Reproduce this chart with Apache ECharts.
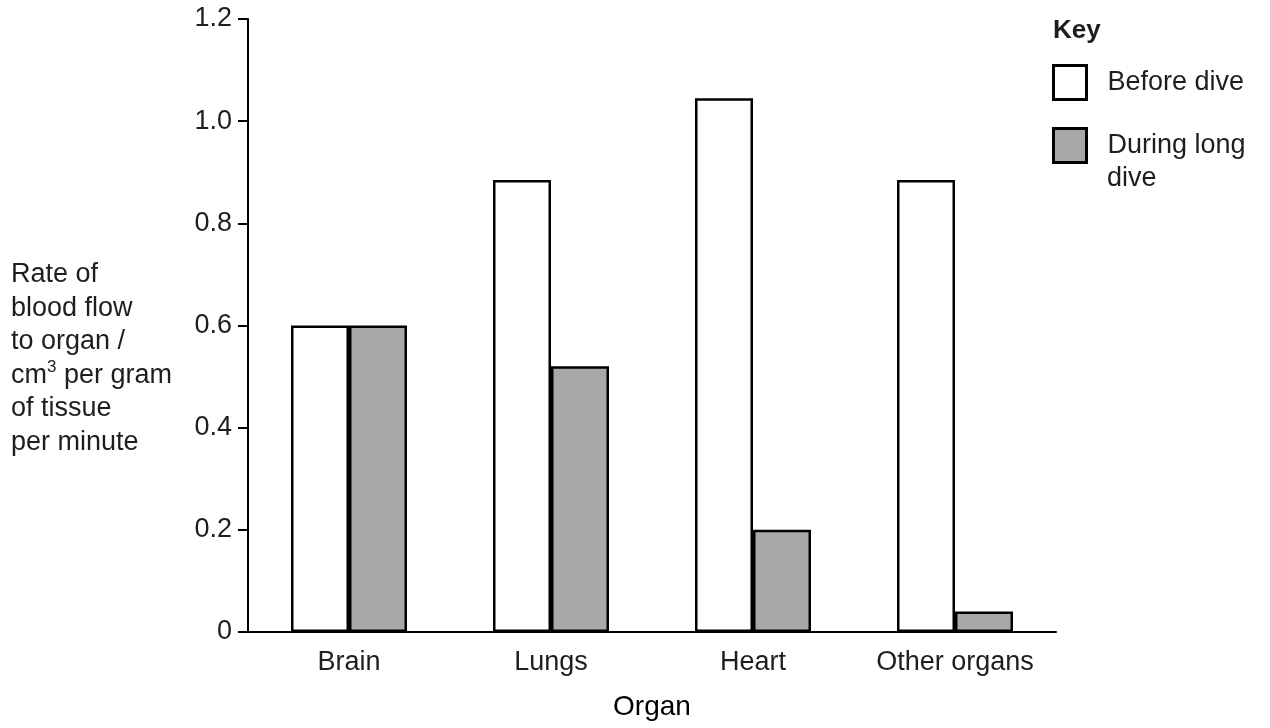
<!DOCTYPE html>
<html>
<head>
<meta charset="utf-8">
<script src="https://cdn.jsdelivr.net/npm/echarts@6/dist/echarts.min.js"></script>
<style>
html,body{margin:0;padding:0;background:#fff;}
#chart{width:1270px;height:728px;}
</style>
</head>
<body>
<div id="chart"></div>
<script>
var categories = ['Brain', 'Lungs', 'Heart', 'Other organs'];
var beforeDive = [0.6, 0.885, 1.045, 0.885];
var duringDive = [0.6, 0.52, 0.2, 0.04];
var yTickLabels = ['0', '0.2', '0.4', '0.6', '0.8', '1.0', '1.2'];
var seriesNames = ['Before dive', 'During long dive'];

var FONT = '"Liberation Sans", Arial, Helvetica, sans-serif';
var TXT = '#1e1e1e';

var chart = echarts.init(document.getElementById('chart'));
chart.setOption({
  animation: false,
  backgroundColor: '#fff',
  textStyle: { fontFamily: FONT },
  grid: { left: 248, right: 214, top: 19, bottom: 96, containLabel: false },
  legend: {
    orient: 'vertical',
    left: 1047,
    top: 59,
    itemWidth: 33,
    itemHeight: 34,
    itemGap: 26,
    icon: 'rect',
    selectedMode: false,
    textStyle: { fontFamily: FONT, fontSize: 27, color: TXT, padding: [0, 0, 0, 16] },
    formatter: function (name) { return name === seriesNames[1] ? 'During long' : name; },
    data: [
      { name: seriesNames[0], itemStyle: { color: '#fff', borderColor: '#000', borderWidth: 3 } },
      { name: seriesNames[1], itemStyle: { color: '#a8a8a8', borderColor: '#000', borderWidth: 3 } }
    ]
  },
  xAxis: {
    type: 'category',
    data: categories,
    name: 'Organ',
    nameLocation: 'middle',
    nameGap: 61,
    nameTextStyle: { fontFamily: FONT, fontSize: 28, color: '#000' },
    axisLine: { lineStyle: { color: '#000', width: 2 } },
    axisTick: { show: false },
    axisLabel: { interval: 0, hideOverlap: false, fontFamily: FONT, fontSize: 27, color: TXT, margin: 17 },
    splitLine: { show: false }
  },
  yAxis: {
    type: 'value',
    min: 0,
    max: 1.2,
    interval: 0.2,
    axisLine: { show: true, lineStyle: { color: '#000', width: 2 } },
    axisTick: { show: true, length: 10, lineStyle: { color: '#000', width: 2 } },
    axisLabel: {
      fontFamily: FONT, fontSize: 27, color: TXT, margin: 16,
      formatter: function (v) { return yTickLabels[Math.round(v / 0.2)]; }
    },
    splitLine: { show: false }
  },
  series: [
    {
      name: seriesNames[0],
      type: 'bar',
      data: beforeDive,
      barWidth: 58,
      barGap: '0%',
      itemStyle: { color: '#fff', borderColor: '#000', borderWidth: 2.5 }
    },
    {
      name: seriesNames[1],
      type: 'bar',
      data: duringDive,
      barWidth: 58,
      barGap: '0%',
      itemStyle: { color: '#a8a8a8', borderColor: '#000', borderWidth: 2.5 }
    }
  ],
  graphic: [
    {
      type: 'text',
      left: 11,
      top: 258,
      style: {
        text: 'Rate of\nblood flow\nto organ /\ncm{sup|3} per gram\nof tissue\nper minute',
        fontFamily: FONT,
        fontSize: 27,
        lineHeight: 33.5,
        fill: TXT,
        rich: {
          sup: { fontFamily: FONT, fontSize: 17, verticalAlign: 'top', lineHeight: 33.5, fill: TXT }
        }
      }
    },
    {
      type: 'text',
      left: 1053,
      top: 18,
      style: { text: 'Key', fontFamily: FONT, fontSize: 26, fontWeight: 'bold', fill: TXT }
    },
    {
      type: 'text',
      left: 1107,
      top: 165,
      style: { text: 'dive', fontFamily: FONT, fontSize: 27, fill: TXT }
    }
  ]
});
</script>
</body>
</html>
